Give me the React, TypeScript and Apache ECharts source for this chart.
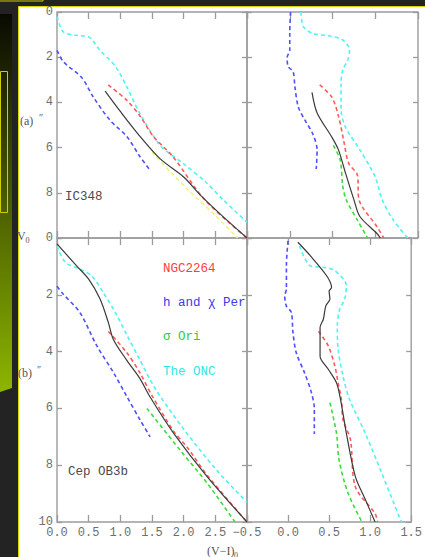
import React, { useEffect, useRef } from "react";
import * as echarts from "echarts";

// ---- axis ranges / ticks ----
const xLeftMin = 0;
const xLeftMax = 3;
const xRightMin = -0.5;
const xRightMax = 1.5;
const xStep = 0.5;
const yMin = 0;
const yMax = 10;
const yStep = 2;

// ---- legend ----
const clusterNames = ["NGC2264", "h and \u03c7 Per", "\u03c3 Ori", "The ONC"];
const clusterTextColors = ["#ff3d3d", "#3a3aea", "#33cc33", "#2fe6e6"];

// ---- (a) IC348, left panel (x = V-I, y = V0) ----
const aL_cyan = [[0, 0.2], [0.1, 0.88], [0.3, 1.03], [0.5, 1.1], [0.68, 1.7], [0.92, 2.4], [1.1, 3.3], [1.31, 4.5], [1.63, 5.9], [1.99, 6.7], [2.34, 7.5], [2.62, 8.3], [3.0, 9.3]];
const aL_blue = [[0, 1.7], [0.1, 2.2], [0.39, 2.9], [0.57, 3.75], [0.84, 4.8], [1.1, 5.5], [1.31, 6.4], [1.47, 7.0]];
const aL_red = [[0.81, 3.23], [1.1, 3.9], [1.31, 4.6], [1.52, 5.5], [1.83, 6.4], [2.33, 8.3], [3.0, 10]];
const aL_yellow = [[1.5, 6.2], [1.8, 7.1], [2.1, 7.95], [2.5, 9.0], [2.85, 10]];
const aL_black = [[0.76, 3.5], [1.0, 4.4], [1.31, 5.5], [1.63, 6.5], [2.0, 7.3], [2.28, 8.15], [2.6, 9.0], [3.0, 10]];

// ---- (a) IC348, right panel ----
const aR_blue = [[0.01, 0], [0.0, 0.95], [0.0, 1.7], [-0.03, 2.0], [-0.02, 2.4], [0.04, 2.65], [0.06, 3.3], [0.1, 4.2], [0.18, 4.8], [0.27, 5.4], [0.32, 6.1], [0.31, 6.95]];
const aR_cyan = [[0.13, 0], [0.16, 0.65], [0.27, 0.95], [0.47, 1.06], [0.62, 1.24], [0.7, 1.68], [0.68, 2.1], [0.62, 2.57], [0.6, 3.15], [0.6, 4.3], [0.65, 5.08], [0.82, 6.1], [1.0, 7.3], [1.08, 8.3], [1.21, 9.2], [1.38, 10]];
const aR_red = [[0.35, 3.23], [0.49, 3.75], [0.57, 4.6], [0.63, 5.67], [0.69, 6.7], [0.79, 7.2], [0.81, 8.3], [1.02, 9.5], [1.1, 10]];
const aR_green = [[0.51, 5.9], [0.59, 6.55], [0.62, 7.7], [0.66, 8.3], [0.79, 9.2], [0.91, 10]];
const aR_black = [[0.26, 3.56], [0.32, 4.47], [0.49, 5.52], [0.57, 6.1], [0.65, 7.1], [0.75, 8.3], [0.82, 9.05], [1.02, 9.8], [1.06, 10]];

// ---- (b) Cep OB3b, left panel ----
const bL_cyan = [[0, 0.28], [0.13, 0.85], [0.36, 1.1], [0.55, 1.34], [0.73, 1.92], [0.92, 2.62], [1.1, 3.4], [1.31, 4.3], [1.55, 5.3], [1.99, 6.7], [2.53, 8.2], [3.0, 9.3]];
const bL_blue = [[0, 1.7], [0.1, 1.98], [0.36, 2.62], [0.63, 3.8], [0.89, 4.73], [1.1, 5.57], [1.31, 6.4], [1.47, 7.0]];
const bL_red = [[0.81, 3.29], [1.1, 4.03], [1.31, 4.75], [1.5, 5.55], [1.84, 6.8], [2.05, 7.35], [2.37, 8.35], [3.0, 10]];
const bL_green = [[1.42, 6.0], [1.94, 7.46], [2.37, 8.63], [2.81, 10]];
const bL_black = [[0, 0.21], [0.31, 0.98], [0.5, 1.45], [0.68, 2.15], [0.81, 2.97], [0.89, 3.57], [1.1, 4.3], [1.31, 4.95], [1.47, 5.6], [1.84, 6.87], [2.37, 8.4], [3.0, 10]];

// ---- (b) Cep OB3b, right panel ----
const bR_blue = [[0, 0.1], [-0.02, 0.98], [-0.02, 1.8], [-0.04, 2.04], [-0.02, 2.4], [0.04, 2.62], [0.06, 3.33], [0.1, 4.04], [0.2, 4.74], [0.28, 5.4], [0.32, 6.0], [0.32, 6.9]];
const bR_cyan = [[0.14, 0.28], [0.27, 0.98], [0.43, 1.03], [0.57, 1.15], [0.71, 1.68], [0.69, 2.15], [0.63, 2.5], [0.6, 3.1], [0.61, 3.92], [0.67, 4.87], [0.75, 5.69], [0.94, 6.87], [1.14, 8.27], [1.38, 10]];
const bR_red = [[0.37, 3.28], [0.49, 3.8], [0.57, 4.51], [0.61, 5.1], [0.65, 5.69], [0.67, 6.4], [0.76, 7.1], [0.82, 8.76], [1.06, 9.7], [1.09, 10]];
const bR_green = [[0.51, 5.8], [0.59, 6.87], [0.62, 7.8], [0.73, 8.98], [0.9, 10]];
const bR_black = [[0.12, 0.15], [0.27, 0.62], [0.47, 1.33], [0.53, 1.74], [0.5, 1.87], [0.51, 2.15], [0.46, 2.39], [0.43, 2.86], [0.39, 3.15], [0.39, 3.68], [0.39, 4.16], [0.49, 4.62], [0.59, 5.1], [0.64, 5.7], [0.71, 6.87], [0.82, 8.4], [0.94, 9.2], [1.06, 10]];

const RED = "#ff5a5a";
const BLUE = "#4f4fff";
const GREEN = "#3ddc3d";
const CYAN = "#4ff3f3";
const YELLOW = "#f2f27a";
const BLACK = "#3a3a3a";
const AXIS = "#9c9c9c";
const MONO = '"Liberation Mono", monospace';
const SERIF = '"Liberation Serif", serif';

function ln(data: number[][], color: string, gi: number, dashed = true) {
  return {
    type: "line",
    xAxisIndex: gi,
    yAxisIndex: gi,
    data,
    symbol: "none",
    showSymbol: false,
    smooth: 0.3,
    silent: true,
    lineStyle: dashed
      ? { color, width: 1.6, type: [4, 3] }
      : { color, width: 1.2, type: "solid" },
    z: dashed ? 2 : 3,
  };
}

function fmtX(v: number) {
  const s = Math.abs(v).toFixed(1);
  return v < 0 ? "\u2212" + s : s;
}

export default function App() {
  const ref = useRef<HTMLDivElement>(null);
  useEffect(() => {
    if (!ref.current) return;
    const chart = echarts.init(ref.current, undefined, { renderer: "svg" });
    const grids = [
      { left: 57, top: 12, width: 190, height: 226 },
      { left: 247, top: 12, width: 171, height: 226 },
      { left: 57, top: 238, width: 190, height: 284 },
      { left: 247, top: 238, width: 171, height: 284 },
    ].map((g) => ({ ...g, show: true, borderColor: AXIS, borderWidth: 1.4, backgroundColor: "transparent", containLabel: false }));

    const xAxis: any[] = [];
    const yAxis: any[] = [];
    for (let k = 0; k < 8; k++) {
      const gi = k % 4;
      const isRight = gi === 1 || gi === 3;
      const bottom = k < 4;
      xAxis.push({
        gridIndex: gi,
        type: "value",
        position: bottom ? "bottom" : "top",
        min: isRight ? xRightMin : xLeftMin,
        max: isRight ? xRightMax : xLeftMax,
        interval: xStep,
        axisLine: { show: false, onZero: false },
        splitLine: { show: false },
        axisTick: { show: true, inside: true, length: 7, lineStyle: { color: AXIS, width: 1.3 } },
        axisLabel: {
          show: bottom && gi >= 2,
          margin: 5,
          color: "#6e6e6e",
          fontFamily: MONO,
          fontSize: 12,
          formatter: (v: number) => (!isRight && v === xLeftMax ? "" : fmtX(v)),
        },
      });
      const left = k < 4;
      yAxis.push({
        gridIndex: gi,
        type: "value",
        position: left ? "left" : "right",
        inverse: true,
        min: yMin,
        max: yMax,
        interval: yStep,
        axisLine: { show: false, onZero: false },
        splitLine: { show: false },
        axisTick: { show: true, inside: true, length: 5, lineStyle: { color: AXIS, width: 1.3 } },
        axisLabel: {
          show: left && !isRight,
          margin: 4,
          color: "#6e6e6e",
          fontFamily: MONO,
          fontSize: 12,
          formatter: (v: number) => (gi === 0 && v === yMax ? "" : String(v)),
        },
      });
    }

    const series = [
      ln(aL_cyan, CYAN, 0), ln(aL_blue, BLUE, 0), ln(aL_yellow, YELLOW, 0), ln(aL_red, RED, 0), ln(aL_black, BLACK, 0, false),
      ln(aR_blue, BLUE, 1), ln(aR_cyan, CYAN, 1), ln(aR_green, GREEN, 1), ln(aR_red, RED, 1), ln(aR_black, BLACK, 1, false),
      ln(bL_cyan, CYAN, 2), ln(bL_blue, BLUE, 2), ln(bL_green, GREEN, 2), ln(bL_red, RED, 2), ln(bL_black, BLACK, 2, false),
      ln(bR_blue, BLUE, 3), ln(bR_cyan, CYAN, 3), ln(bR_green, GREEN, 3), ln(bR_red, RED, 3), ln(bR_black, BLACK, 3, false),
    ];

    const txt = (text: string, x: number, y: number, fill: string, size: number, family = MONO, align = "left") => ({
      type: "text",
      x,
      y,
      z: 10,
      silent: true,
      style: {
        text,
        fill,
        fontSize: size,
        fontFamily: family,
        align,
        verticalAlign: "middle",
        textAlign: align,
        textVerticalAlign: "middle",
      },
    });

    const graphic: any[] = [
      // left slide panel
      {
        type: "polygon",
        z: -5,
        silent: true,
        shape: { points: [[0, 14], [12, 14], [12, 388], [0, 392]] },
        style: {
          fill: new echarts.graphic.LinearGradient(0, 0, 0, 1, [
            { offset: 0, color: "#0a0a03" },
            { offset: 0.5, color: "#4a5d00" },
            { offset: 1, color: "#8db600" },
          ]),
        },
      },
      { type: "rect", z: -4, silent: true, shape: { x: 0.5, y: 71.5, width: 7, height: 141 }, style: { fill: "none", stroke: "#cfcf00", lineWidth: 1 } },
      { type: "rect", z: -4, silent: true, shape: { x: -5, y: -10, width: 48, height: 11 }, style: { fill: "none", stroke: "#cfcf00", lineWidth: 1 } },
      // white chart area
      { type: "rect", z: -5, silent: true, shape: { x: 18.5, y: 6.5, width: 420, height: 560 }, style: { fill: "#ffffff", stroke: "#d6d600", lineWidth: 1 } },
      // labels
      txt("V", 17, 236, "#555", 12, SERIF),
      txt("0", 25.5, 240, "#555", 8, SERIF),
      txt("(a)", 20, 121, "#555", 12, SERIF),
      txt("\u2033", 39, 117, "#555", 10, SERIF),
      txt("(b)", 18, 373, "#555", 12, SERIF),
      txt("\u2033", 37, 369, "#555", 10, SERIF),
      txt("IC348", 65, 197, "#4a4a4a", 12.5),
      txt("Cep OB3b", 68, 472, "#4a4a4a", 12.5),
      txt("(V\u2212I)", 207, 551, "#555", 12, SERIF),
      txt("0", 234, 555, "#555", 8, SERIF),
    ];
    const legendY = [269, 303, 337, 372];
    clusterNames.forEach((n, i) => graphic.push(txt(n, 163, legendY[i], clusterTextColors[i], 12.5)));

    chart.setOption({
      animation: false,
      backgroundColor: "#232323",
      grid: grids,
      xAxis,
      yAxis,
      series,
      graphic,
    });
    return () => chart.dispose();
  }, []);

  return <div ref={ref} style={{ position: "fixed", left: 0, top: 0, width: 425, height: 557 }} />;
}
